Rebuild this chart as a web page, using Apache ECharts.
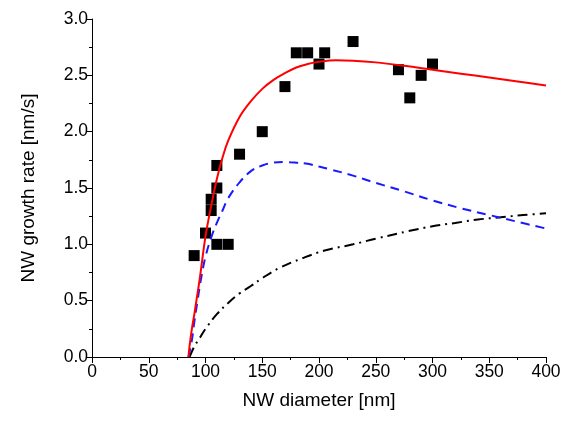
<!DOCTYPE html>
<html><head><meta charset="utf-8">
<script src="https://cdn.jsdelivr.net/npm/echarts@6/dist/echarts.min.js"></script>
<style>html,body{margin:0;padding:0;background:#fff}#c{width:575px;height:422px}</style>
</head><body><div id="c"></div>
<script>
const xTicks = [0, 50, 100, 150, 200, 250, 300, 350, 400];
const yTicks = [0.0, 0.5, 1.0, 1.5, 2.0, 2.5, 3.0];

const measX = [90, 100, 105, 105, 110, 110, 110, 120, 130, 150, 170, 180, 190, 200, 205, 230, 270, 280, 290, 300];
const measY = [0.9, 1.1, 1.3, 1.4, 1.0, 1.5, 1.7, 1.0, 1.8, 2.0, 2.4, 2.7, 2.7, 2.6, 2.7, 2.8, 2.55, 2.3, 2.5, 2.6];

const redX = [85, 86, 88, 90, 92, 95, 100, 105, 110, 115, 120, 130, 140, 150, 160, 170, 180, 190, 200, 215, 230, 250, 275, 300, 325, 350, 375, 400];
const redY = [0, 0.1, 0.25, 0.37, 0.5, 0.7, 1.07, 1.34, 1.58, 1.77, 1.92, 2.13, 2.27, 2.38, 2.46, 2.52, 2.57, 2.6, 2.62, 2.633, 2.63, 2.615, 2.585, 2.55, 2.515, 2.48, 2.445, 2.41];

const blueX = [85, 88, 90, 93, 96, 100, 105, 110, 115, 120, 130, 140, 150, 160, 170, 180, 190, 200, 210, 230, 250, 275, 300, 325, 350, 375, 400];
const blueY = [0, 0.15, 0.3, 0.5, 0.69, 0.89, 1.06, 1.19, 1.3, 1.41, 1.55, 1.65, 1.70, 1.725, 1.73, 1.725, 1.715, 1.69, 1.665, 1.61, 1.545, 1.47, 1.39, 1.32, 1.26, 1.2, 1.14];

const blackX = [86, 90, 95, 100, 110, 120, 130, 140, 150, 165, 185, 205, 230, 250, 280, 300, 320, 340, 360, 380, 400];
const blackY = [0, 0.09, 0.17, 0.25, 0.38, 0.48, 0.565, 0.63, 0.70, 0.79, 0.875, 0.945, 1.0, 1.05, 1.12, 1.16, 1.19, 1.22, 1.24, 1.26, 1.275];

const zip = (a, b) => a.map((v, i) => [v, b[i]]);
const FONT = 'Liberation Sans, Arial, sans-serif';

const chart = echarts.init(document.getElementById('c'), null, {renderer: 'canvas'});
chart.setOption({
  animation: false,
  grid: {left: 92, right: 29, top: 19, bottom: 65, containLabel: false},
  xAxis: {
    type: 'value', min: xTicks[0], max: xTicks[xTicks.length - 1], interval: 50,
    name: 'NW diameter [nm]', nameLocation: 'middle', nameGap: 34,
    nameTextStyle: {fontFamily: FONT, fontSize: 19, color: '#000'},
    axisLine: {show: true, lineStyle: {color: '#000', width: 1}},
    axisTick: {show: true, length: 6, inside: false, lineStyle: {color: '#000'}},
    minorTick: {show: true, splitNumber: 2, length: 3, lineStyle: {color: '#000'}},
    axisLabel: {fontFamily: FONT, fontSize: 17.5, color: '#000', margin: 6},
    splitLine: {show: false}
  },
  yAxis: {
    type: 'value', min: yTicks[0], max: yTicks[yTicks.length - 1], interval: 0.5,
    name: 'NW growth rate [nm/s]', nameLocation: 'middle', nameGap: 54,
    nameTextStyle: {fontFamily: FONT, fontSize: 19, color: '#000'},
    axisLine: {show: true, lineStyle: {color: '#000', width: 1}},
    axisTick: {show: true, length: 6, inside: false, lineStyle: {color: '#000'}},
    minorTick: {show: true, splitNumber: 2, length: 3, lineStyle: {color: '#000'}},
    axisLabel: {fontFamily: FONT, fontSize: 17.5, color: '#000', margin: 4,
      formatter: v => v.toFixed(1)},
    splitLine: {show: false}
  },
  series: [
    {type: 'line', data: zip(blackX, blackY), smooth: 0.4, symbol: 'none',
      lineStyle: {color: '#000', width: 2, type: [10, 5, 2, 5]}},
    {type: 'line', data: zip(blueX, blueY), smooth: 0.4, symbol: 'none',
      lineStyle: {color: '#1a1aff', width: 2, type: [9, 6]}},
    {type: 'line', data: zip(redX, redY), smooth: 0.4, symbol: 'none',
      lineStyle: {color: '#ff0000', width: 2}},
    {type: 'scatter', data: zip(measX, measY), symbol: 'rect', symbolSize: 11,
      itemStyle: {color: '#000', opacity: 1}}
  ]
});
</script></body></html>
